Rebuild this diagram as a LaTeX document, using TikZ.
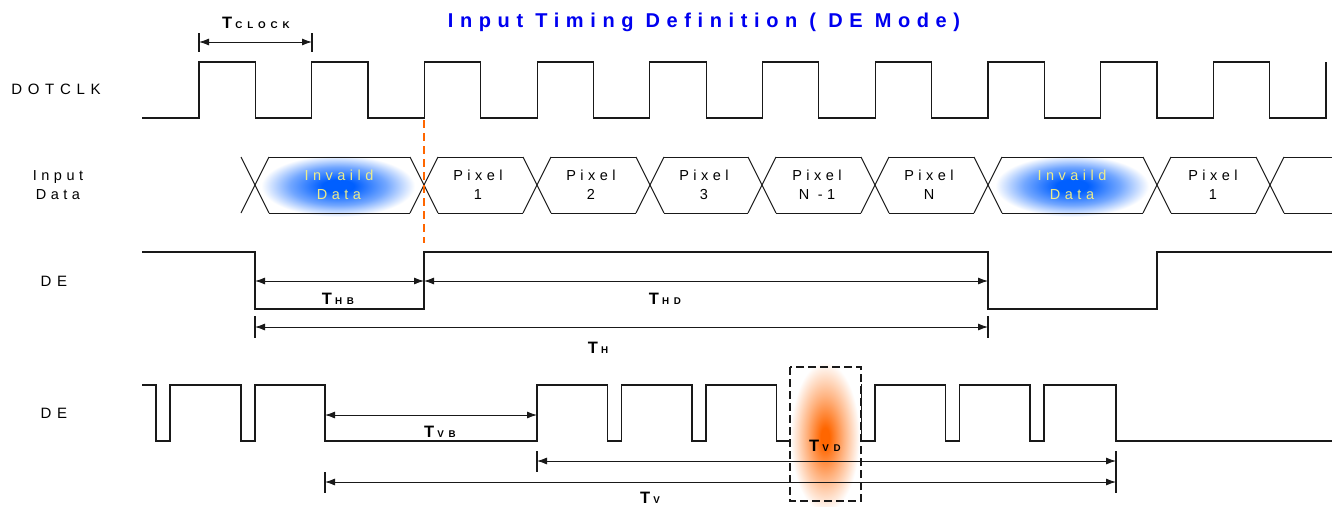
\documentclass[tikz,border=0pt]{standalone}
\usepackage{fontspec}
\setmainfont{Liberation Sans}
\newfontfamily\lsfont[LetterSpace=38]{Liberation Sans}
\newfontfamily\dfont[LetterSpace=31]{Liberation Sans}
\newfontfamily\tfont[LetterSpace=33]{Liberation Sans}
\newfontfamily\subfont[LetterSpace=50]{Liberation Sans}
\usetikzlibrary{arrows.meta}
\definecolor{sigc}{RGB}{25,25,25}
\definecolor{orng}{RGB}{255,102,0}
\definecolor{glowblue}{RGB}{0,95,255}
\definecolor{txtyel}{RGB}{236,236,140}
\definecolor{titleblue}{RGB}{0,0,240}
\pgfdeclareradialshading{bglow}{\pgfpoint{0bp}{0bp}}{color(0bp)=(glowblue); color(5bp)=(glowblue); color(15bp)=(glowblue!55!white); color(24bp)=(white); color(50bp)=(white)}
\pgfdeclareradialshading{oglow}{\pgfpoint{0bp}{0bp}}{color(0bp)=(orng); color(3bp)=(orng); color(13bp)=(orng!50!white); color(24bp)=(white); color(50bp)=(white)}
\newcommand\tlab[1]{{\fontsize{16.5}{16}\selectfont T}\kern3pt{\subfont\fontsize{9.8}{9}\selectfont #1}}
\begin{document}
\begin{tikzpicture}[x=1pt,y=-1pt,
  sig/.style={draw=sigc, line width=1.2pt, line join=miter},
  dim/.style={draw=sigc, line width=0.9pt, {Latex[length=10pt,width=7pt]}-{Latex[length=10pt,width=7pt]}},
  tick/.style={draw=sigc, line width=1.1pt},
  lbl/.style={font=\lsfont\fontsize{15}{18}\selectfont, inner sep=0pt, align=center},
  dlbl/.style={font=\dfont\fontsize{14.5}{19}\selectfont, inner sep=0pt, align=center},
  tl/.style={font=\bfseries, inner sep=0pt, anchor=base}]
\useasboundingbox (0,0) rectangle (1332,506);

% title
\node[font=\tfont\bfseries\fontsize{20}{20}\selectfont, text=titleblue, inner sep=0pt] (title) at (704,22) {Input Timing Definition ( DE Mode)};

% row labels
\node[lbl] (ldot) at (56,89) {DOTCLK};
\node[dlbl] (lin) at (58,185) {Input\\Data};
\node[lbl] (lde1) at (54,281) {DE};
\node[lbl] (lde2) at (54,413) {DE};

% DOTCLK
\draw[sig] (142,118) \foreach \k in {0,...,9} { -- ({199+112.7*\k},118) -- ({199+112.7*\k},62) -- ({255.35+112.7*\k},62) -- ({255.35+112.7*\k},118) } -- (1326,118) -- (1326,62);

% T clock
\coordinate (ck1) at (199,42);
\coordinate (ck2) at (312,42);
\draw[tick] (199,33) -- (199,52);
\draw[tick] (312,33) -- (312,52);
\draw[dim] (ck1) -- (ck2);
\node[tl] (tclk) at (256,28) {\tlab{CLOCK}};

% input data glows
\shade[shading=bglow] (338,186) ellipse [x radius=80, y radius=32];
\shade[shading=bglow] (1072,186) ellipse [x radius=80, y radius=32];

% input data hexagons
\foreach \c in {255,424,537,650,762,875,988,1157,1270} {
  \draw[sig, line width=1pt] (\c-14,157) -- (\c+14,213);
  \draw[sig, line width=1pt] (\c-14,213) -- (\c+14,157);
}
\foreach \a/\b in {255/424,424/537,537/650,650/762,762/875,875/988,988/1157,1157/1270} {
  \draw[sig, line width=1pt] (\a+14,157) -- (\b-14,157);
  \draw[sig, line width=1pt] (\a+14,213) -- (\b-14,213);
}
\draw[sig, line width=1pt] (1284,157) -- (1332,157);
\draw[sig, line width=1pt] (1284,213) -- (1332,213);

\node[dlbl, text=txtyel] (inv1) at (339,185) {Invaild\\Data};
\node[dlbl] (p1) at (478,185) {Pixel\\1};
\node[dlbl] (p2) at (591,185) {Pixel\\2};
\node[dlbl] (p3) at (704,185) {Pixel\\3};
\node[dlbl] (pn1) at (817,185) {Pixel\\N -1};
\node[dlbl] (pn) at (929,185) {Pixel\\N};
\node[dlbl, text=txtyel] (inv2) at (1072,185) {Invaild\\Data};
\node[dlbl] (p1b) at (1213,185) {Pixel\\1};

% orange dashed marker
\coordinate (mtop) at (424,120);
\coordinate (mbot) at (424,243);
\draw[orng, line width=2pt, dash pattern=on 8pt off 5pt] (mtop) -- (mbot);

% DE row 1
\draw[sig] (142,252) -- (255,252) -- (255,309) -- (424,309) -- (424,252) -- (988,252) -- (988,309) -- (1157,309) -- (1157,252) -- (1332,252);
\coordinate (hb1) at (255,281);
\coordinate (hb2) at (424,281);
\coordinate (hd2) at (988,281);
\draw[dim] (hb1) -- (hb2);
\draw[dim] (hb2) -- (hd2);
\node[tl] (thb) at (338,304) {\tlab{HB}};
\node[tl] (thd) at (665,304) {\tlab{HD}};
\draw[tick] (255,316) -- (255,338);
\draw[tick] (988,316) -- (988,338);
\coordinate (th1) at (255,327);
\coordinate (th2) at (988,327);
\draw[dim] (th1) -- (th2);
\node[tl] (th) at (598,353) {\tlab{H}};

% DE row 2
\draw[sig] (142,385) -- (156,385) -- (156,441) -- (170,441) -- (170,385) -- (241,385) -- (241,441) -- (255,441) -- (255,385) -- (325,385) -- (325,441) -- (537,441)
  \foreach \k in {0,...,5} { -- ({537+84.5*\k},385) -- ({607.5+84.5*\k},385) -- ({607.5+84.5*\k},441) -- ({621.5+84.5*\k},441) }
  -- (1044,385) -- (1116,385) -- (1116,441) -- (1332,441);

% T_VD box with glow
\fill[white] (790,367) rectangle (861,501);
\shade[shading=oglow] (825,437) ellipse [x radius=36, y radius=78];
\draw[sigc, line width=1.8pt, dash pattern=on 8pt off 4pt] (790,367) rectangle (861,501);

\coordinate (vb1) at (325,415);
\coordinate (vb2) at (537,415);
\draw[dim] (vb1) -- (vb2);
\node[tl] (tvb) at (440,437) {\tlab{VB}};

\draw[tick] (537,451) -- (537,472);
\draw[tick] (325,472) -- (325,493);
\draw[tick] (1116,451) -- (1116,493);
\coordinate (vd1) at (537,461);
\coordinate (vd2) at (1116,461);
\coordinate (v1) at (325,482);
\coordinate (v2) at (1116,482);
\draw[dim] (vd1) -- (vd2);
\draw[dim] (v1) -- (v2);
\node[tl] (tvd) at (825,451) {\tlab{VD}};
\node[tl] (tv) at (650,503) {\tlab{V}};
\end{tikzpicture}
\end{document}
